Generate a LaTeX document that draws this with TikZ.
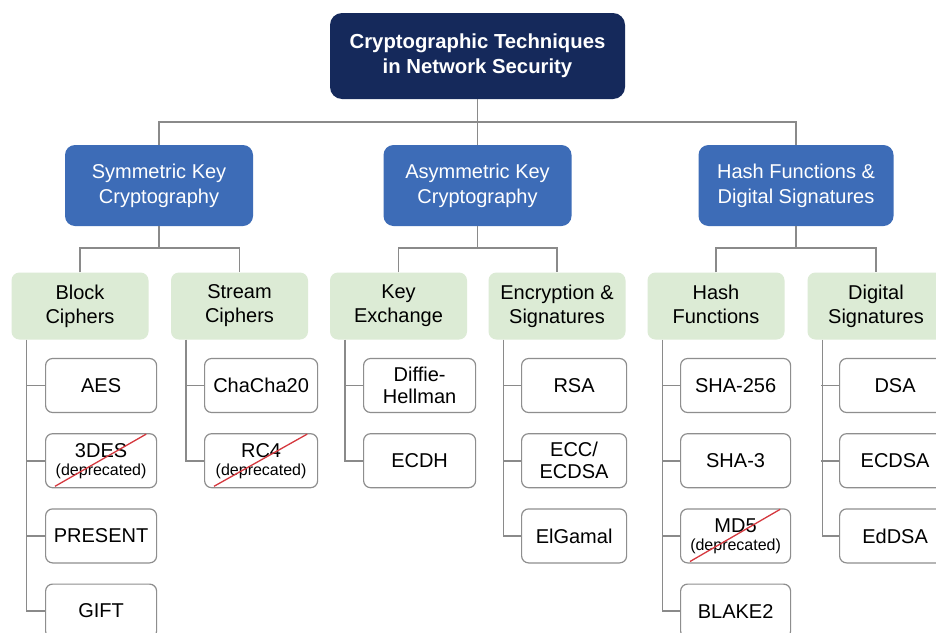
\documentclass[tikz,border=0pt]{standalone}
\usepackage{fontspec}
\setmainfont{Liberation Sans}
\usetikzlibrary{positioning}

\definecolor{navy}{HTML}{15295B}
\definecolor{catblue}{HTML}{3D6CB7}
\definecolor{subgreen}{HTML}{DCEBD5}
\definecolor{leafgray}{HTML}{8E8E8E}
\definecolor{linegray}{HTML}{8A8A8A}
\definecolor{strikered}{HTML}{D5383E}

\newcommand{\depr}[1]{#1\\[-4pt]{\fontsize{16}{18}\selectfont(deprecated)}}

\begin{document}
\begin{tikzpicture}[x=1pt,y=-1pt,
    conn/.style={draw=linegray,line width=1.6pt},
    root/.style={fill=navy,text=white,rounded corners=12pt,minimum width=295pt,minimum height=86pt,align=center,font=\fontsize{20.3}{25}\selectfont\bfseries},
    cat/.style={fill=catblue,text=white,rounded corners=10pt,minimum width=188pt,minimum height=81pt,align=center,font=\fontsize{20}{25}\selectfont},
    sub/.style={fill=subgreen,rounded corners=8pt,minimum width=137pt,minimum height=67pt,align=center,font=\fontsize{20}{24}\selectfont},
    leaf/.style={draw=leafgray,fill=white,line width=1.2pt,rounded corners=7pt,minimum width=111pt,minimum height=54pt,inner sep=2pt,align=center,font=\fontsize{20}{22}\selectfont},
    strike/.style={draw=strikered,line width=1.3pt}]
    \useasboundingbox[fill=white] (0,0) rectangle (936,632);

    % top levels
    \node[root] (root) at (477.5,56) {Cryptographic Techniques\\in Network Security};
    \node[cat] (sym) at (159,185.5) {Symmetric Key\\Cryptography};
    \node[cat] (asym) at (477.5,185.5) {Asymmetric Key\\Cryptography};
    \node[cat,minimum width=195pt] (hashsig) at (796,185.5) {Hash Functions \&\\Digital Signatures};

    \node[sub] (block) at (80,306) {Block\\Ciphers};
    \node[sub] (stream) at (239.5,306) {Stream\\Ciphers};
    \node[sub] (kex) at (398.5,306) {Key\\Exchange};
    \node[sub] (encsig) at (557,306) {Encryption \&\\Signatures};
    \node[sub] (hashf) at (716,306) {Hash\\Functions\vphantom{p}};
    \node[sub] (digsig) at (876,306) {Digital\\Signatures};

    % leaves
    \node[leaf,anchor=west] (aes) at (45,385.5) {AES};
    \node[leaf,below=20pt of aes] (tdes) {\depr{3DES}};
    \node[leaf,below=20pt of tdes] (present) {PRESENT};
    \node[leaf,below=20pt of present] (gift) {GIFT};

    \node[leaf,anchor=west,minimum width=113pt] (chacha) at (204,385.5) {ChaCha20};
    \node[leaf,below=20pt of chacha,minimum width=113pt] (rc4) {\depr{RC4}};

    \node[leaf,anchor=west,minimum width=112pt] (dh) at (363,385.5) {Diffie-\\Hellman};
    \node[leaf,below=20pt of dh,minimum width=112pt] (ecdh) {ECDH};

    \node[leaf,anchor=west,minimum width=105pt] (rsa) at (521,385.5) {RSA};
    \node[leaf,below=20pt of rsa,minimum width=105pt] (ecc) {ECC/\\ECDSA};
    \node[leaf,below=20pt of ecc,minimum width=105pt] (elgamal) {ElGamal};

    \node[leaf,anchor=west,minimum width=110pt] (sha2) at (680,385.5) {SHA-256};
    \node[leaf,below=20pt of sha2,minimum width=110pt] (sha3) {SHA-3};
    \node[leaf,below=20pt of sha3,minimum width=110pt] (md5) {\depr{MD5}};
    \node[leaf,below=20pt of md5,minimum width=110pt] (blake) {BLAKE2};

    \node[leaf,anchor=west] (dsa) at (839,385.5) {DSA};
    \node[leaf,below=20pt of dsa] (ecdsa) {ECDSA};
    \node[leaf,below=20pt of ecdsa] (eddsa) {EdDSA};

    % connectors
    \coordinate (bus) at (477.5,122);
    \coordinate (symbus) at (159,248);
    \coordinate (asymbus) at (477.5,248);
    \coordinate (hashbus) at (796,248);
    \draw[conn] (root.south) -- (asym.north);
    \draw[conn] (sym.north) |- (bus) -| (hashsig.north);
    \draw[conn] (sym.south) -- (symbus);
    \draw[conn] (asym.south) -- (asymbus);
    \draw[conn] (hashsig.south) -- (hashbus);
    \draw[conn] (block.north) |- (symbus) -| (stream.north);
    \draw[conn] (kex.north) |- (asymbus) -| (encsig.north);
    \draw[conn] (hashf.north) |- (hashbus) -| (digsig.north);

    \foreach \g/\l in {block/gift,stream/rc4,kex/ecdh,encsig/elgamal,hashf/blake,digsig/eddsa}
      \draw[conn] ([xshift=15pt]\g.south west) |- (\l.west);
    \foreach \l in {aes,tdes,present,chacha,dh,rsa,ecc,sha2,sha3,md5,dsa,ecdsa}
      \draw[conn] (\l.west) -- ++(-18,0);

    % deprecated ones
    \foreach \l in {tdes,rc4,md5}
      \draw[strike] ([xshift=10pt,yshift=2pt]\l.south west) -- ([xshift=-11pt,yshift=-1pt]\l.north east);
\end{tikzpicture}
\end{document}
